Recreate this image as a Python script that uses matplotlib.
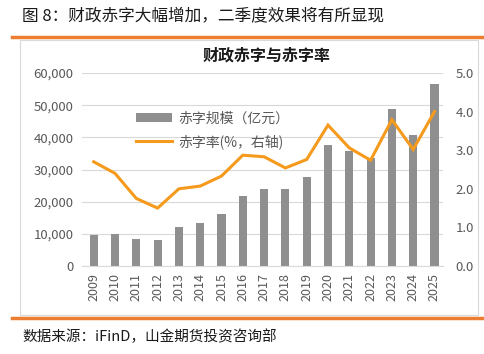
import matplotlib
matplotlib.use("Agg")
import matplotlib.pyplot as plt
import numpy as np
from matplotlib.lines import Line2D
from matplotlib.patches import Rectangle

plt.rcParams["font.family"] = ["Noto Sans CJK SC", "DejaVu Sans"]

# ── Data ──────────────────────────────────────────────────────────────────────
years = ["2009", "2010", "2011", "2012", "2013", "2014", "2015", "2016", "2017",
         "2018", "2019", "2020", "2021", "2022", "2023", "2024", "2025"]
deficit = [9500, 10000, 8500, 8000, 12000, 13500, 16200, 21800, 23800,
           23800, 27600, 37600, 35700, 33700, 48800, 40600, 56600]   # 亿元
deficit_rate = [2.7, 2.4, 1.75, 1.5, 2.0, 2.07, 2.33, 2.87, 2.83,
                2.54, 2.76, 3.65, 3.06, 2.74, 3.79, 3.02, 4.0]        # %
left_ticks = [0, 10000, 20000, 30000, 40000, 50000, 60000]
right_ticks = [0.0, 1.0, 2.0, 3.0, 4.0, 5.0]

BAR_COLOR = "#8f8f8f"
LINE_COLOR = "#f59a1c"
ORANGE = "#ed7d31"
TICK_COLOR = "#595959"

fig = plt.figure(figsize=(4.85, 3.54), dpi=100)

# title and frame
fig.text(22 / 485, 1 - 16 / 354, "图 8：财政赤字大幅增加，二季度效果将有所显现",
         fontsize=12, va="center", ha="left", color="#1a1a1a")
fig.add_artist(Line2D([12 / 485, 1.0], [1 - 37 / 354] * 2, color=ORANGE, lw=2.5))
fig.add_artist(Line2D([12 / 485, 1.0], [1 - 318 / 354] * 2, color=ORANGE, lw=2.5))
fig.add_artist(Rectangle((20 / 485, 1 - 315 / 354), 458 / 485, 275 / 354,
                         fill=False, edgecolor="#d9d9d9", lw=0.8))
fig.text(267 / 485, 1 - 55 / 354, "财政赤字与赤字率", fontsize=11.5, fontweight="bold",
         ha="center", va="center", color="#1a1a1a")
fig.text(22 / 485, 1 - 337 / 354, "数据来源：iFinD，山金期货投资咨询部",
         fontsize=10.5, ha="left", va="center", color="#1a1a1a")

# ── Main axes ─────────────────────────────────────────────────────────────────
ax = fig.add_axes([82 / 485, 1 - 266 / 354, 361 / 485, 193 / 354])
x = np.arange(len(years))
ax.bar(x, deficit, width=0.38, color=BAR_COLOR, label="赤字规模（亿元）", zorder=2)
ax.set_ylim(0, 60000)
ax.set_yticks(left_ticks)
ax.set_yticklabels([f"{v:,}" for v in left_ticks])
ax.set_xlim(-0.55, len(years) - 0.6)
ax.set_xticks(x)
ax.set_xticklabels(years, rotation=90)
ax.grid(axis="y", color="#d9d9d9", lw=0.8, zorder=0)
for s in ["top", "right", "left"]:
    ax.spines[s].set_visible(False)
ax.spines["bottom"].set_color("#d9d9d9")
ax.tick_params(axis="y", length=0, labelsize=9.5, colors=TICK_COLOR, pad=6)
ax.tick_params(axis="x", length=0, labelsize=9, colors=TICK_COLOR, pad=5)

ax2 = ax.twinx()
ax2.plot(x, deficit_rate, color=LINE_COLOR, lw=2.2, label="赤字率(%，右轴)",
         solid_joinstyle="miter", zorder=3)
ax2.set_ylim(0, 5)
ax2.set_yticks(right_ticks)
ax2.set_yticklabels([f"{v:.1f}" for v in right_ticks])
for s in ax2.spines.values():
    s.set_visible(False)
ax2.tick_params(axis="y", length=0, labelsize=9.5, colors=TICK_COLOR, pad=9)

h1, l1 = ax.get_legend_handles_labels()
h2, l2 = ax2.get_legend_handles_labels()
leg = ax2.legend(h1 + h2, l1 + l2, loc="upper left", bbox_to_anchor=(0.135, 0.83),
                 frameon=False, fontsize=10, handlelength=2.6, labelspacing=0.65,
                 handletextpad=0.4, borderaxespad=0)
for t in leg.get_texts():
    t.set_color(TICK_COLOR)

fig.savefig("out.png", dpi=100)
